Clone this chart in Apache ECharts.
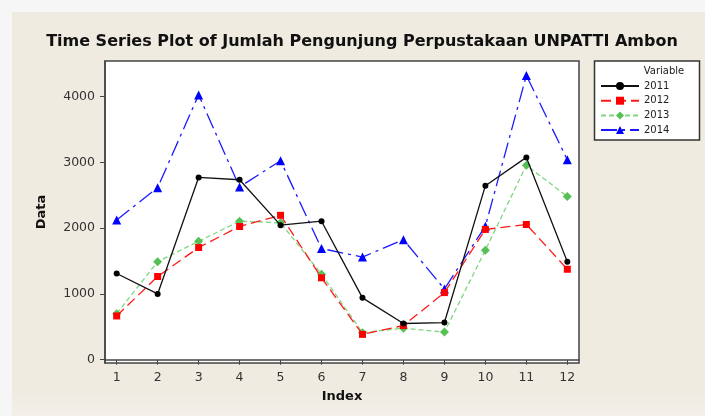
<!DOCTYPE html>
<html>
<head>
<meta charset="utf-8">
<script src="https://cdn.jsdelivr.net/npm/echarts@6/dist/echarts.min.js"></script>
<style>
  html, body { margin: 0; padding: 0; background: #f6f6f6; }
  #chart { width: 705px; height: 416px; }
</style>
</head>
<body>
<div id="chart"></div>
<script>
const titleText = 'Time Series Plot of Jumlah Pengunjung Perpustakaan UNPATTI Ambon';
const indexValues = [1, 2, 3, 4, 5, 6, 7, 8, 9, 10, 11, 12];
const yTicks = [0, 1000, 2000, 3000, 4000];
const seriesNames = ['2011', '2012', '2013', '2014'];
const v2011 = [1310, 1000, 2770, 2735, 2045, 2105, 940, 550, 565, 2645, 3075, 1490];
const v2012 = [665, 1265, 1705, 2025, 2195, 1245, 385, 520, 1020, 1980, 2055, 1375];
const v2013 = [700, 1490, 1800, 2105, 2080, 1300, 410, 480, 420, 1665, 2955, 2480];
const v2014 = [2125, 2615, 4025, 2625, 3025, 1690, 1560, 1825, 1075, 2030, 4320, 3040];

const pairs = vals => indexValues.map((x, i) => [x, vals[i]]);

const chart = echarts.init(document.getElementById('chart'), null, { renderer: 'canvas' });

const styles = [
  { data: v2011, line: '#111111', item: '#000000', type: 'solid', symbol: 'circle', size: 6 },
  { data: v2012, line: '#ff1a1a', item: '#ff0000', type: [10, 5], symbol: 'rect', size: 7 },
  { data: v2013, line: '#7fd67f', item: '#55c055', type: [5, 3], symbol: 'diamond', size: 9 },
  { data: v2014, line: '#1a1aff', item: '#0000ff', type: [16, 5, 3, 5], symbol: 'triangle', size: 9 }
];

const series = styles.map((s, i) => ({
  name: seriesNames[i],
  type: 'line',
  data: pairs(s.data),
  symbol: s.symbol,
  symbolSize: s.size,
  showAllSymbol: true,
  animation: false,
  z: 10 - i,
  lineStyle: { color: s.line, width: 1.3, type: s.type },
  itemStyle: { color: s.item }
}));

chart.setOption({
  animation: false,
  backgroundColor: 'transparent',
  textStyle: { fontFamily: 'DejaVu Sans' },
  graphic: [
    {
      type: 'rect', z: -10, silent: true,
      shape: { x: 12, y: 12, width: 700, height: 410 },
      style: {
        fill: new echarts.graphic.LinearGradient(0, 0, 0, 1, [
          { offset: 0, color: '#efebe1' },
          { offset: 0.93, color: '#efebe1' },
          { offset: 1, color: '#f4f2ec' }
        ])
      }
    },
    {
      type: 'rect', z: 1, silent: true,
      shape: { x: 594.5, y: 61, width: 105, height: 79 },
      style: { fill: '#ffffff', stroke: '#333333', lineWidth: 1.5 }
    },
    {
      type: 'text', z: 2, silent: true,
      x: 664, y: 71,
      style: { text: 'Variable', fontFamily: 'DejaVu Sans', fontSize: 10, fill: '#222', align: 'center', verticalAlign: 'middle' }
    },
    {
      type: 'text', z: 2, silent: true,
      x: 362, y: 42,
      style: { text: titleText, fontFamily: 'DejaVu Sans', fontSize: 16, fontWeight: 'bold', fill: '#111', align: 'center', verticalAlign: 'middle' }
    }
  ],
  legend: {
    orient: 'vertical',
    left: 600,
    top: 81,
    z: 5,
    itemWidth: 38,
    itemHeight: 10,
    itemGap: 4.7,
    padding: 0,
    data: seriesNames,
    textStyle: { fontFamily: 'DejaVu Sans', fontSize: 10, color: '#222' }
  },
  grid: {
    left: 105, top: 61, right: 126, bottom: 53,
    show: true, backgroundColor: '#ffffff', borderColor: '#444444', borderWidth: 1.5
  },
  xAxis: {
    type: 'value',
    min: 0.715, max: 12.285,
    name: 'Index',
    nameLocation: 'middle',
    nameGap: 27,
    nameTextStyle: { fontFamily: 'DejaVu Sans', fontSize: 13, fontWeight: 'bold', color: '#111' },
    axisLine: { show: true, lineStyle: { color: '#444', width: 1.5 } },
    axisTick: { show: true, length: 5, customValues: indexValues, lineStyle: { color: '#444' } },
    axisLabel: { customValues: indexValues, margin: 8, fontFamily: 'DejaVu Sans', fontSize: 12.5, color: '#333', formatter: v => String(v) },
    splitLine: { show: false }
  },
  yAxis: {
    type: 'value',
    min: -50, max: 4540,
    name: 'Data',
    nameLocation: 'middle',
    nameGap: 57,
    nameRotate: 90,
    nameTextStyle: { fontFamily: 'DejaVu Sans', fontSize: 13, fontWeight: 'bold', color: '#111' },
    axisLine: { show: true, lineStyle: { color: '#444', width: 1.5 } },
    axisTick: { show: true, length: 5, customValues: yTicks, lineStyle: { color: '#444' } },
    axisLabel: { customValues: yTicks, margin: 10, fontFamily: 'DejaVu Sans', fontSize: 12.5, color: '#333', formatter: v => String(v) },
    splitLine: { show: false }
  },
  series: series
});
</script>
</body>
</html>
